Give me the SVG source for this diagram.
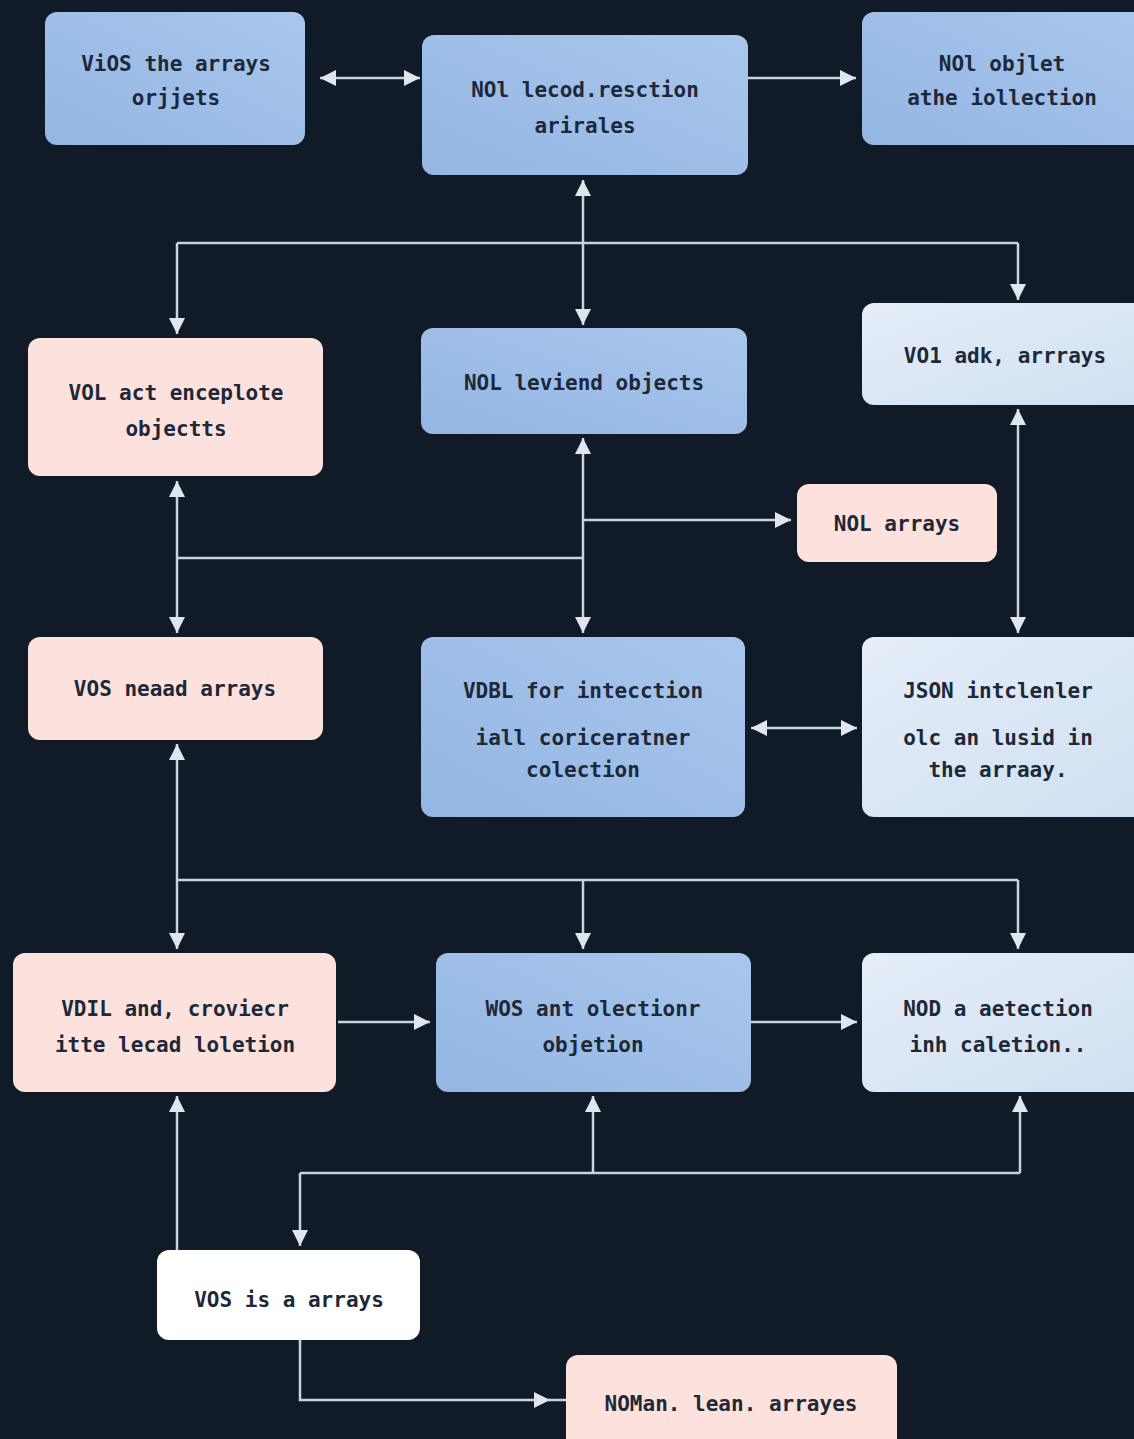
<svg xmlns="http://www.w3.org/2000/svg" width="1134" height="1439" viewBox="0 0 1134 1439">
<defs>
<style>
.bg{fill:#111a27}
.blue{fill:url(#gBlue)}
.pink{fill:#fde1dc}
.light{fill:url(#gLight)}
.white{fill:#ffffff}
.t{font-family:"DejaVu Sans Mono","Liberation Mono",monospace;font-size:21px;font-weight:bold;fill:#1d2838;text-anchor:middle}
.c{fill:none;stroke:#c9d2dd;stroke-width:2.5}
</style>
<linearGradient id="gBlue" x1="0" y1="1" x2="1" y2="0">
<stop offset="0" stop-color="#94b6e3"/>
<stop offset="1" stop-color="#a8c7ec"/>
</linearGradient>
<linearGradient id="gLight" x1="0" y1="0" x2="1" y2="1">
<stop offset="0" stop-color="#e6eef8"/>
<stop offset="1" stop-color="#cfdff2"/>
</linearGradient>
<marker id="ah" markerUnits="userSpaceOnUse" markerWidth="18" markerHeight="16" refX="16" refY="8" orient="auto-start-reverse">
<path d="M0,0 L16,8 L0,16 Z" fill="#dfe6ee"/>
</marker>
</defs>
<rect class="bg" x="0" y="0" width="1134" height="1439"/>
<g id="connectors">
<path class="c" d="M320,78 H420" marker-start="url(#ah)" marker-end="url(#ah)"/>
<path class="c" d="M748,78 H856" marker-end="url(#ah)"/>
<path class="c" d="M583,180 V325" marker-start="url(#ah)" marker-end="url(#ah)"/>
<path class="c" d="M177,243 H1018"/>
<path class="c" d="M177,243 V334" marker-end="url(#ah)"/>
<path class="c" d="M1018,243 V300" marker-end="url(#ah)"/>
<path class="c" d="M583,438 V633" marker-start="url(#ah)" marker-end="url(#ah)"/>
<path class="c" d="M583,520 H791" marker-end="url(#ah)"/>
<path class="c" d="M177,558 H583"/>
<path class="c" d="M177,481 V633" marker-start="url(#ah)" marker-end="url(#ah)"/>
<path class="c" d="M1018,409 V633" marker-start="url(#ah)" marker-end="url(#ah)"/>
<path class="c" d="M751,728 H857" marker-start="url(#ah)" marker-end="url(#ah)"/>
<path class="c" d="M177,744 V949" marker-start="url(#ah)" marker-end="url(#ah)"/>
<path class="c" d="M177,880 H1018"/>
<path class="c" d="M583,880 V949" marker-end="url(#ah)"/>
<path class="c" d="M1018,880 V949" marker-end="url(#ah)"/>
<path class="c" d="M338,1022 H430" marker-end="url(#ah)"/>
<path class="c" d="M751,1022 H857" marker-end="url(#ah)"/>
<path class="c" d="M177,1250 V1096" marker-end="url(#ah)"/>
<path class="c" d="M593,1173 V1096" marker-end="url(#ah)"/>
<path class="c" d="M300,1173 H1020"/>
<path class="c" d="M1020,1173 V1096" marker-end="url(#ah)"/>
<path class="c" d="M300,1173 V1246" marker-end="url(#ah)"/>
<path class="c" d="M300,1340 V1400 H550" marker-end="url(#ah)"/>
<path class="c" d="M548,1400 H566"/>
</g>
<g id="n1"><rect class="blue" x="45" y="12" width="260" height="133" rx="12"/><text class="t" x="176" y="71">ViOS the arrays</text><text class="t" x="176" y="105">orjjets</text></g>
<g id="n2"><rect class="blue" x="422" y="35" width="326" height="140" rx="12"/><text class="t" x="585" y="97">NOl lecod.resction</text><text class="t" x="585" y="133">arirales</text></g>
<g id="n3"><rect class="blue" x="862" y="12" width="290" height="133" rx="12"/><text class="t" x="1002" y="71">NOl objlet</text><text class="t" x="1002" y="105">athe iollection</text></g>
<g id="n4"><rect class="pink" x="28" y="338" width="295" height="138" rx="12"/><text class="t" x="176" y="400">VOL act enceplote</text><text class="t" x="176" y="436">objectts</text></g>
<g id="n5"><rect class="blue" x="421" y="328" width="326" height="106" rx="12"/><text class="t" x="584" y="390">NOL leviend objects</text></g>
<g id="n6"><rect class="light" x="862" y="303" width="290" height="102" rx="12"/><text class="t" x="1005" y="363">VO1 adk, arrrays</text></g>
<g id="n7"><rect class="pink" x="797" y="484" width="200" height="78" rx="12"/><text class="t" x="897" y="531">NOL arrays</text></g>
<g id="n8"><rect class="pink" x="28" y="637" width="295" height="103" rx="12"/><text class="t" x="175" y="696">VOS neaad arrays</text></g>
<g id="n9"><rect class="blue" x="421" y="637" width="324" height="180" rx="12"/><text class="t" x="583" y="698">VDBL for intecction</text><text class="t" x="583" y="745">iall coriceratner</text><text class="t" x="583" y="777">colection</text></g>
<g id="n10"><rect class="light" x="862" y="637" width="290" height="180" rx="12"/><text class="t" x="998" y="698">JSON intclenler</text><text class="t" x="998" y="745">olc an lusid in</text><text class="t" x="998" y="777">the arraay.</text></g>
<g id="n11"><rect class="pink" x="13" y="953" width="323" height="139" rx="12"/><text class="t" x="175" y="1016">VDIL and, croviecr</text><text class="t" x="175" y="1052">itte lecad loletion</text></g>
<g id="n12"><rect class="blue" x="436" y="953" width="315" height="139" rx="12"/><text class="t" x="593" y="1016">WOS ant olectionr</text><text class="t" x="593" y="1052">objetion</text></g>
<g id="n13"><rect class="light" x="862" y="953" width="290" height="139" rx="12"/><text class="t" x="998" y="1016">NOD a aetection</text><text class="t" x="998" y="1052">inh caletion..</text></g>
<g id="n14"><rect class="white" x="157" y="1250" width="263" height="90" rx="12"/><text class="t" x="289" y="1307">VOS is a arrays</text></g>
<g id="n15"><rect class="pink" x="566" y="1355" width="331" height="100" rx="12"/><text class="t" x="731" y="1411">NOMan. lean. arrayes</text></g>
</svg>
